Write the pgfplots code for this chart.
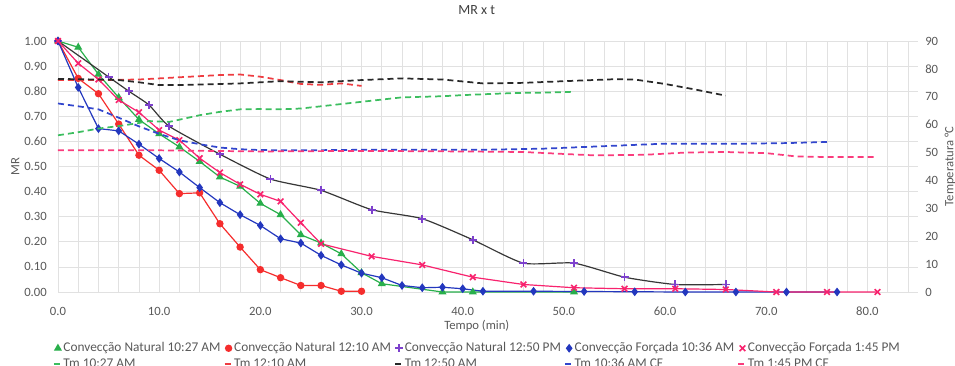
\documentclass[border=0pt]{standalone}
\usepackage{fontspec}
\setmainfont{Carlito}
\usepackage{pgfplots}
\pgfplotsset{compat=1.18}
\definecolor{cgreen}{RGB}{40,175,75}
\definecolor{cred}{RGB}{245,45,45}
\definecolor{cpurple}{RGB}{125,65,205}
\definecolor{cblue}{RGB}{35,55,190}
\definecolor{cpink}{RGB}{248,35,110}
\definecolor{cline}{RGB}{55,55,55}
\definecolor{dgreen}{RGB}{60,190,95}
\definecolor{dred}{RGB}{238,60,65}
\definecolor{dblack}{RGB}{40,40,40}
\definecolor{dblue}{RGB}{50,70,205}
\definecolor{dpink}{RGB}{250,60,125}
\definecolor{gridc}{RGB}{225,225,225}
\definecolor{tickc}{RGB}{89,89,89}
\definecolor{titlec}{RGB}{64,64,64}
\begin{document}
\begin{tikzpicture}
\pgfplotsset{
  dashT/.style={line width=1.3pt, dash pattern=on 4.5pt off 3pt},
  markimg/.style={legend image code/.code={\draw[##1] plot coordinates {(3pt,0pt)};}},
  lineimg/.style={legend image code/.code={\draw[##1] (0pt,0pt) -- (6pt,0pt);}},
}
\begin{axis}[
  at={(0,0)}, anchor=south west, scale only axis,
  width=645pt, height=188.25pt,
  xmin=0, xmax=85, ymin=0, ymax=1,
  xtick={0,10,...,80}, minor xtick={2,4,...,84},
  ytick={0,0.1,0.2,0.3,0.4,0.5,0.6,0.7,0.8,0.9,1.0},
  grid=both,
  major grid style={draw=gridc, line width=0.5pt},
  minor grid style={draw=gridc, line width=0.5pt},
  axis line style={draw=none},
  major tick length=0pt, minor tick length=0pt,
  /pgf/number format/assume math mode=true,
  ticklabel style={font=\fontsize{9.5}{11}\selectfont, text=tickc},
  xticklabel style={/pgf/number format/.cd, fixed, fixed zerofill, precision=1, /tikz/.cd, anchor=center, yshift=-14.25pt},
  yticklabel style={/pgf/number format/.cd, fixed, fixed zerofill, precision=2, /tikz/.cd, anchor=east, inner xsep=0pt, xshift=-8.25pt},
  title={MR x t},
  title style={font=\fontsize{10.5}{12}\selectfont, text=titlec, anchor=center, at={(axis description cs:0.487,1.0916)}},
  xlabel={Tempo (min)},
  xlabel style={font=\fontsize{9.5}{11}\selectfont, text=tickc, anchor=center, at={(axis description cs:0.487,-0.1355)}},
  ylabel={MR},
  ylabel style={font=\fontsize{9.5}{11}\selectfont, text=tickc, anchor=center, rotate=0, at={(axis description cs:-0.0496,0.5)}},
  legend columns=5,
  legend cell align=left,
  legend style={at={(axis description cs:0.487,0)}, anchor=north, yshift=-37pt,
    draw=none, fill=none, inner sep=0pt, row sep=2pt,
    font=\fontsize{10}{12}\selectfont, text=tickc,
    nodes={inner sep=0.5pt, text height=7pt, text depth=2pt},
    /tikz/every even column/.append style={column sep=2pt}},
]
\addplot[cgreen, line width=0.9pt, mark=triangle*, mark size=2.6pt, markimg] coordinates {
(0,1.000)(2,0.975)(4,0.867)(6,0.775)(8,0.687)(10,0.630)(12,0.578)(14,0.520)(16,0.458)(18,0.421)(20,0.353)(22,0.308)(24,0.228)(26,0.195)(28,0.152)(30,0.077)(32,0.033)(38,0.000)(41,0.000)(51,0.000)};
\addlegendentry{Convecção Natural 10:27 AM}
\addplot[cred, line width=0.9pt, mark=*, mark size=2.3pt, markimg] coordinates {
(0,1.000)(2,0.851)(4,0.790)(6,0.669)(8,0.545)(10,0.485)(12,0.392)(14,0.395)(16,0.272)(18,0.179)(20,0.089)(22,0.057)(24,0.026)(26,0.026)(28,0.003)(30,0.003)};
\addlegendentry{Convecção Natural 12:10 AM}
\addplot[cline, line width=0.9pt, smooth, tension=0.35, mark=+, mark size=3pt, mark options={cpurple, line width=1.3pt}, markimg] coordinates {
(0,1.000)(5,0.857)(7,0.800)(9,0.745)(11,0.660)(16,0.549)(21,0.450)(26,0.405)(31,0.328)(36,0.292)(41,0.208)(46,0.115)(51,0.115)(56,0.059)(61,0.030)(66,0.030)};
\addlegendentry{Convecção Natural 12:50 PM}
\addplot[cblue, line width=0.9pt, mark=diamond*, mark size=2.6pt, markimg] coordinates {
(0,1.000)(2,0.815)(4,0.651)(6,0.642)(8,0.589)(10,0.532)(12,0.478)(14,0.416)(16,0.356)(18,0.308)(20,0.265)(22,0.212)(24,0.195)(26,0.146)(28,0.108)(30,0.075)(32,0.057)(34,0.026)(36,0.017)(38,0.019)(40,0.013)(42,0.003)(47,0.003)(52,0.002)(57,0.001)(62,0.000)(67,0.000)(72,0.000)(77,0.000)};
\addlegendentry{Convecção Forçada 10:36 AM}
\addplot[cpink, line width=0.9pt, mark=x, mark size=3pt, mark options={line width=1.2pt}, markimg] coordinates {
(0,1.000)(2,0.911)(4,0.847)(6,0.765)(8,0.716)(10,0.645)(12,0.605)(14,0.533)(16,0.476)(18,0.429)(20,0.389)(22,0.361)(24,0.276)(26,0.192)(31,0.142)(36,0.108)(41,0.059)(46,0.030)(51,0.017)(56,0.013)(61,0.013)(66,0.010)(71,0.000)(76,0.000)(81,0.000)};
\addlegendentry{Convecção Forçada 1:45 PM}
\addlegendimage{dgreen, dashT, lineimg}
\addlegendentry{Tm 10:27 AM}
\addlegendimage{dred, dashT, lineimg}
\addlegendentry{Tm 12:10 AM}
\addlegendimage{dblack, dashT, lineimg}
\addlegendentry{Tm 12:50 AM}
\addlegendimage{dblue, dashT, lineimg}
\addlegendentry{Tm 10:36 AM CF}
\addlegendimage{dpink, dashT, lineimg}
\addlegendentry{Tm 1:45 PM CF}
\end{axis}
\begin{axis}[
  at={(0,0)}, anchor=south west, scale only axis,
  width=645pt, height=188.25pt,
  xmin=0, xmax=85, ymin=0, ymax=90,
  axis x line=none, axis y line*=right,
  axis line style={draw=none},
  major tick length=0pt, minor tick length=0pt,
  ytick={0,10,...,90},
  /pgf/number format/assume math mode=true,
  ticklabel style={font=\fontsize{9.5}{11}\selectfont, text=tickc},
  yticklabel style={anchor=west, inner xsep=0pt, xshift=5.25pt},
  ylabel={Temperatura °C},
  ylabel style={font=\fontsize{9.5}{11}\selectfont, text=tickc, anchor=center, rotate=0, at={(axis description cs:1.0372,0.5)}},
]
\addplot[dgreen, dashT] coordinates {
(0,56.2)(2,57.3)(4,58.6)(6,59.5)(8,60.6)(9,61.3)(11,61.0)(14,63.4)(16,64.6)(18,65.5)(20,65.6)(22,65.5)(24,65.8)(26,66.6)(28,67.4)(30,68.2)(32,69.0)(34,69.8)(36,70.0)(38,70.2)(40,70.6)(42,70.9)(44,71.2)(46,71.4)(48,71.5)(51,71.8)};
\addplot[dred, dashT] coordinates {
(0,76.0)(4,76.0)(8,76.2)(12,77.0)(16,77.8)(18,78.0)(20,77.2)(22,76.0)(24,74.6)(26,74.3)(28,74.8)(30,73.9)};
\addplot[dblack, dashT] coordinates {
(0,76.4)(4,76.2)(6,76.0)(8,75.2)(10,74.2)(12,74.2)(16,74.6)(18,74.8)(22,75.6)(26,75.2)(30,76.0)(34,76.6)(38,76.2)(42,74.8)(46,75.0)(50,75.6)(55,76.3)(57,76.2)(60,74.6)(63,72.6)(66,70.4)};
\addplot[dblue, dashT] coordinates {
(0,67.6)(2,66.6)(4,65.5)(6,62.5)(8,59.4)(10,56.7)(12,54.4)(14,53.0)(16,51.8)(18,51.2)(20,50.9)(24,50.8)(30,51.0)(36,51.0)(42,51.0)(48,51.4)(52,52.0)(56,52.6)(60,53.2)(64,53.2)(68,53.2)(72,53.4)(76,53.8)};
\addplot[dpink, dashT] coordinates {
(0,50.8)(10,50.8)(20,50.4)(30,50.6)(40,50.4)(46,50.2)(50,49.5)(53,49.0)(58,49.2)(62,50.0)(66,50.2)(70,49.8)(73,48.6)(76,48.4)(81,48.4)};
\end{axis}
\pgfresetboundingbox
\path[use as bounding box] (-43.5pt,-54.75pt) rectangle (672.75pt,219pt);
\end{tikzpicture}
\end{document}
